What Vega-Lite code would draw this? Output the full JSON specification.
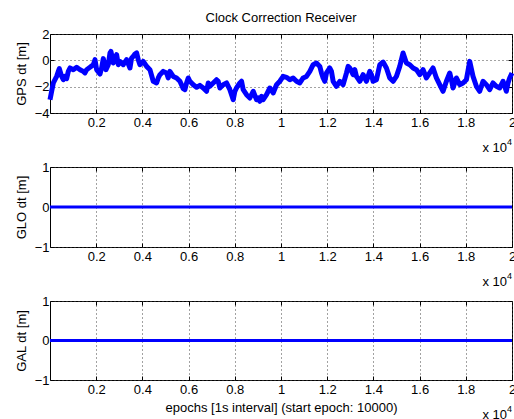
{
  "$schema": "https://vega.github.io/schema/vega-lite/v6.json",
  "autosize": {"type": "pad"},
  "padding": {"left": 14, "top": 11, "right": 0, "bottom": 0},
  "background": "white",
  "title": {"text": "Clock Correction Receiver", "fontSize": 13, "font": "Liberation Sans", "fontWeight": "normal", "color": "black", "anchor": "middle", "offset": 3, "frame": "group"},
  "config": {
    "font": "Liberation Sans",
    "view": {"stroke": "black", "strokeWidth": 1},
    "axis": {
      "labelFont": "Liberation Sans", "labelFontSize": 13, "labelColor": "black",
      "titleFont": "Liberation Sans", "titleFontSize": 13, "titleFontWeight": "normal", "titleColor": "black",
      "domain": false, "tickColor": "black", "tickSize": -4, "tickWidth": 1,
      "gridColor": "#444444", "gridDash": [1, 3], "gridOpacity": 1, "gridWidth": 1,
      "labelOverlap": false, "labelFlush": false, "labelBound": false
    },
    "text": {"font": "Liberation Sans", "color": "black"}
  },
  "datasets": {
    "clock": [
      {"t": 0, "gps": -2.99, "glo": 0, "gal": 0},
      {"t": 72, "gps": -2.35, "glo": 0, "gal": 0},
      {"t": 144, "gps": -1.72, "glo": 0, "gal": 0},
      {"t": 288, "gps": -1.22, "glo": 0, "gal": 0},
      {"t": 361, "gps": -0.84, "glo": 0, "gal": 0},
      {"t": 404, "gps": -0.63, "glo": 0, "gal": 0},
      {"t": 505, "gps": -1.22, "glo": 0, "gal": 0},
      {"t": 577, "gps": -1.47, "glo": 0, "gal": 0},
      {"t": 649, "gps": -1.22, "glo": 0, "gal": 0},
      {"t": 721, "gps": -1.39, "glo": 0, "gal": 0},
      {"t": 793, "gps": -0.84, "glo": 0, "gal": 0},
      {"t": 865, "gps": -0.58, "glo": 0, "gal": 0},
      {"t": 1009, "gps": -0.71, "glo": 0, "gal": 0},
      {"t": 1154, "gps": -0.53, "glo": 0, "gal": 0},
      {"t": 1298, "gps": -0.71, "glo": 0, "gal": 0},
      {"t": 1442, "gps": -0.84, "glo": 0, "gal": 0},
      {"t": 1514, "gps": -0.96, "glo": 0, "gal": 0},
      {"t": 1586, "gps": -0.71, "glo": 0, "gal": 0},
      {"t": 1730, "gps": -0.53, "glo": 0, "gal": 0},
      {"t": 1875, "gps": -0.33, "glo": 0, "gal": 0},
      {"t": 1947, "gps": 0.05, "glo": 0, "gal": 0},
      {"t": 2019, "gps": -0.71, "glo": 0, "gal": 0},
      {"t": 2163, "gps": -1.04, "glo": 0, "gal": 0},
      {"t": 2235, "gps": -0.58, "glo": 0, "gal": 0},
      {"t": 2307, "gps": 0.13, "glo": 0, "gal": 0},
      {"t": 2423, "gps": -0.71, "glo": 0, "gal": 0},
      {"t": 2524, "gps": -0.33, "glo": 0, "gal": 0},
      {"t": 2596, "gps": 0.55, "glo": 0, "gal": 0},
      {"t": 2639, "gps": 0.68, "glo": 0, "gal": 0},
      {"t": 2740, "gps": -0.20, "glo": 0, "gal": 0},
      {"t": 2812, "gps": 0.18, "glo": 0, "gal": 0},
      {"t": 2884, "gps": 0.43, "glo": 0, "gal": 0},
      {"t": 2956, "gps": -0.33, "glo": 0, "gal": 0},
      {"t": 3028, "gps": -0.08, "glo": 0, "gal": 0},
      {"t": 3172, "gps": -0.33, "glo": 0, "gal": 0},
      {"t": 3317, "gps": 0.05, "glo": 0, "gal": 0},
      {"t": 3461, "gps": -0.58, "glo": 0, "gal": 0},
      {"t": 3533, "gps": 0.18, "glo": 0, "gal": 0},
      {"t": 3605, "gps": 0.30, "glo": 0, "gal": 0},
      {"t": 3677, "gps": 0.48, "glo": 0, "gal": 0},
      {"t": 3749, "gps": 0.56, "glo": 0, "gal": 0},
      {"t": 3821, "gps": 0.05, "glo": 0, "gal": 0},
      {"t": 3893, "gps": -0.33, "glo": 0, "gal": 0},
      {"t": 4038, "gps": -0.08, "glo": 0, "gal": 0},
      {"t": 4182, "gps": -0.46, "glo": 0, "gal": 0},
      {"t": 4326, "gps": -0.71, "glo": 0, "gal": 0},
      {"t": 4470, "gps": -1.59, "glo": 0, "gal": 0},
      {"t": 4614, "gps": -1.72, "glo": 0, "gal": 0},
      {"t": 4687, "gps": -1.34, "glo": 0, "gal": 0},
      {"t": 4759, "gps": -1.09, "glo": 0, "gal": 0},
      {"t": 4903, "gps": -0.84, "glo": 0, "gal": 0},
      {"t": 5047, "gps": -0.96, "glo": 0, "gal": 0},
      {"t": 5119, "gps": -1.34, "glo": 0, "gal": 0},
      {"t": 5191, "gps": -0.84, "glo": 0, "gal": 0},
      {"t": 5335, "gps": -1.22, "glo": 0, "gal": 0},
      {"t": 5480, "gps": -1.34, "glo": 0, "gal": 0},
      {"t": 5624, "gps": -1.59, "glo": 0, "gal": 0},
      {"t": 5768, "gps": -2.15, "glo": 0, "gal": 0},
      {"t": 5840, "gps": -2.23, "glo": 0, "gal": 0},
      {"t": 5912, "gps": -1.72, "glo": 0, "gal": 0},
      {"t": 5984, "gps": -1.34, "glo": 0, "gal": 0},
      {"t": 6056, "gps": -1.59, "glo": 0, "gal": 0},
      {"t": 6201, "gps": -1.85, "glo": 0, "gal": 0},
      {"t": 6345, "gps": -2.05, "glo": 0, "gal": 0},
      {"t": 6489, "gps": -1.90, "glo": 0, "gal": 0},
      {"t": 6633, "gps": -2.10, "glo": 0, "gal": 0},
      {"t": 6777, "gps": -2.35, "glo": 0, "gal": 0},
      {"t": 6850, "gps": -1.72, "glo": 0, "gal": 0},
      {"t": 6922, "gps": -1.97, "glo": 0, "gal": 0},
      {"t": 7066, "gps": -1.72, "glo": 0, "gal": 0},
      {"t": 7210, "gps": -1.47, "glo": 0, "gal": 0},
      {"t": 7282, "gps": -1.59, "glo": 0, "gal": 0},
      {"t": 7354, "gps": -2.10, "glo": 0, "gal": 0},
      {"t": 7498, "gps": -1.85, "glo": 0, "gal": 0},
      {"t": 7643, "gps": -1.72, "glo": 0, "gal": 0},
      {"t": 7787, "gps": -2.23, "glo": 0, "gal": 0},
      {"t": 7931, "gps": -2.99, "glo": 0, "gal": 0},
      {"t": 8003, "gps": -2.35, "glo": 0, "gal": 0},
      {"t": 8075, "gps": -2.10, "glo": 0, "gal": 0},
      {"t": 8219, "gps": -1.72, "glo": 0, "gal": 0},
      {"t": 8292, "gps": -1.59, "glo": 0, "gal": 0},
      {"t": 8364, "gps": -2.23, "glo": 0, "gal": 0},
      {"t": 8508, "gps": -2.61, "glo": 0, "gal": 0},
      {"t": 8652, "gps": -2.86, "glo": 0, "gal": 0},
      {"t": 8796, "gps": -2.35, "glo": 0, "gal": 0},
      {"t": 8940, "gps": -2.99, "glo": 0, "gal": 0},
      {"t": 9013, "gps": -2.86, "glo": 0, "gal": 0},
      {"t": 9085, "gps": -3.11, "glo": 0, "gal": 0},
      {"t": 9157, "gps": -2.73, "glo": 0, "gal": 0},
      {"t": 9229, "gps": -2.99, "glo": 0, "gal": 0},
      {"t": 9373, "gps": -2.61, "glo": 0, "gal": 0},
      {"t": 9517, "gps": -2.10, "glo": 0, "gal": 0},
      {"t": 9661, "gps": -2.48, "glo": 0, "gal": 0},
      {"t": 9806, "gps": -1.85, "glo": 0, "gal": 0},
      {"t": 9950, "gps": -1.59, "glo": 0, "gal": 0},
      {"t": 10094, "gps": -1.22, "glo": 0, "gal": 0},
      {"t": 10238, "gps": -1.29, "glo": 0, "gal": 0},
      {"t": 10382, "gps": -1.47, "glo": 0, "gal": 0},
      {"t": 10527, "gps": -1.34, "glo": 0, "gal": 0},
      {"t": 10671, "gps": -1.59, "glo": 0, "gal": 0},
      {"t": 10815, "gps": -1.72, "glo": 0, "gal": 0},
      {"t": 10959, "gps": -1.34, "glo": 0, "gal": 0},
      {"t": 11103, "gps": -1.22, "glo": 0, "gal": 0},
      {"t": 11248, "gps": -0.84, "glo": 0, "gal": 0},
      {"t": 11392, "gps": -0.33, "glo": 0, "gal": 0},
      {"t": 11536, "gps": -0.20, "glo": 0, "gal": 0},
      {"t": 11680, "gps": -0.46, "glo": 0, "gal": 0},
      {"t": 11752, "gps": -0.96, "glo": 0, "gal": 0},
      {"t": 11824, "gps": -1.34, "glo": 0, "gal": 0},
      {"t": 11897, "gps": -1.59, "glo": 0, "gal": 0},
      {"t": 11969, "gps": -0.96, "glo": 0, "gal": 0},
      {"t": 12113, "gps": -0.58, "glo": 0, "gal": 0},
      {"t": 12185, "gps": -0.84, "glo": 0, "gal": 0},
      {"t": 12257, "gps": -1.59, "glo": 0, "gal": 0},
      {"t": 12401, "gps": -1.97, "glo": 0, "gal": 0},
      {"t": 12545, "gps": -1.59, "glo": 0, "gal": 0},
      {"t": 12690, "gps": -1.85, "glo": 0, "gal": 0},
      {"t": 12834, "gps": -0.96, "glo": 0, "gal": 0},
      {"t": 12906, "gps": -0.46, "glo": 0, "gal": 0},
      {"t": 12978, "gps": -0.58, "glo": 0, "gal": 0},
      {"t": 13122, "gps": -1.09, "glo": 0, "gal": 0},
      {"t": 13194, "gps": -0.71, "glo": 0, "gal": 0},
      {"t": 13266, "gps": -1.22, "glo": 0, "gal": 0},
      {"t": 13411, "gps": -1.59, "glo": 0, "gal": 0},
      {"t": 13555, "gps": -1.09, "glo": 0, "gal": 0},
      {"t": 13699, "gps": -1.59, "glo": 0, "gal": 0},
      {"t": 13843, "gps": -0.84, "glo": 0, "gal": 0},
      {"t": 13915, "gps": -1.09, "glo": 0, "gal": 0},
      {"t": 13987, "gps": -1.59, "glo": 0, "gal": 0},
      {"t": 14132, "gps": -1.47, "glo": 0, "gal": 0},
      {"t": 14276, "gps": -0.33, "glo": 0, "gal": 0},
      {"t": 14420, "gps": -0.13, "glo": 0, "gal": 0},
      {"t": 14564, "gps": -0.58, "glo": 0, "gal": 0},
      {"t": 14708, "gps": -1.34, "glo": 0, "gal": 0},
      {"t": 14853, "gps": -1.59, "glo": 0, "gal": 0},
      {"t": 14997, "gps": -1.22, "glo": 0, "gal": 0},
      {"t": 15141, "gps": -0.46, "glo": 0, "gal": 0},
      {"t": 15285, "gps": 0.56, "glo": 0, "gal": 0},
      {"t": 15357, "gps": 0.18, "glo": 0, "gal": 0},
      {"t": 15429, "gps": -0.20, "glo": 0, "gal": 0},
      {"t": 15574, "gps": -0.33, "glo": 0, "gal": 0},
      {"t": 15718, "gps": -0.58, "glo": 0, "gal": 0},
      {"t": 15862, "gps": -0.71, "glo": 0, "gal": 0},
      {"t": 16006, "gps": -1.09, "glo": 0, "gal": 0},
      {"t": 16150, "gps": -0.71, "glo": 0, "gal": 0},
      {"t": 16295, "gps": -1.34, "glo": 0, "gal": 0},
      {"t": 16439, "gps": -0.96, "glo": 0, "gal": 0},
      {"t": 16583, "gps": -0.58, "glo": 0, "gal": 0},
      {"t": 16727, "gps": -1.34, "glo": 0, "gal": 0},
      {"t": 16871, "gps": -1.85, "glo": 0, "gal": 0},
      {"t": 17016, "gps": -2.35, "glo": 0, "gal": 0},
      {"t": 17160, "gps": -1.59, "glo": 0, "gal": 0},
      {"t": 17304, "gps": -0.96, "glo": 0, "gal": 0},
      {"t": 17376, "gps": -1.47, "glo": 0, "gal": 0},
      {"t": 17448, "gps": -2.10, "glo": 0, "gal": 0},
      {"t": 17592, "gps": -1.34, "glo": 0, "gal": 0},
      {"t": 17737, "gps": -1.85, "glo": 0, "gal": 0},
      {"t": 17881, "gps": -1.72, "glo": 0, "gal": 0},
      {"t": 18025, "gps": -1.47, "glo": 0, "gal": 0},
      {"t": 18169, "gps": -0.08, "glo": 0, "gal": 0},
      {"t": 18313, "gps": -1.22, "glo": 0, "gal": 0},
      {"t": 18458, "gps": -1.97, "glo": 0, "gal": 0},
      {"t": 18602, "gps": -2.35, "glo": 0, "gal": 0},
      {"t": 18746, "gps": -1.59, "glo": 0, "gal": 0},
      {"t": 18890, "gps": -1.85, "glo": 0, "gal": 0},
      {"t": 19034, "gps": -2.23, "glo": 0, "gal": 0},
      {"t": 19179, "gps": -1.72, "glo": 0, "gal": 0},
      {"t": 19323, "gps": -1.97, "glo": 0, "gal": 0},
      {"t": 19467, "gps": -2.10, "glo": 0, "gal": 0},
      {"t": 19611, "gps": -1.59, "glo": 0, "gal": 0},
      {"t": 19755, "gps": -2.35, "glo": 0, "gal": 0},
      {"t": 19827, "gps": -1.72, "glo": 0, "gal": 0},
      {"t": 19899, "gps": -1.34, "glo": 0, "gal": 0},
      {"t": 20000, "gps": -0.96, "glo": 0, "gal": 0}
    ]
  },
  "bounds": "flush",
  "spacing": 54,
  "vconcat": [
    {
      "width": 462, "height": 79,
      "data": {"name": "clock"},
      "resolve": {"axis": {"x": "independent", "y": "independent"}},
      "layer": [
        {
          "mark": {"type": "line", "color": "#0000ff", "strokeWidth": 5, "strokeJoin": "round"},
          "encoding": {
            "x": {"field": "t", "type": "quantitative", "scale": {"domain": [0, 20000], "nice": false, "zero": false},
                  "axis": {"values": [2000, 4000, 6000, 8000, 10000, 12000, 14000, 16000, 18000, 20000], "labelExpr": "format(datum.value / 10000, '')", "title": null, "grid": true, "labelPadding": 7}},
            "y": {"field": "gps", "type": "quantitative", "scale": {"domain": [-4, 2], "nice": false},
                  "axis": {"values": [-4, -2, 0, 2], "labelExpr": "datum.value < 0 ? '\u2212' + format(-datum.value, 'd') : format(datum.value, 'd')", "title": "GPS dt [m]", "grid": true, "labelPadding": 5, "titlePadding": 6}}
          }
        },
        {
          "data": {"values": [{"label": "x 10"}]},
          "mark": {"type": "text", "align": "right", "baseline": "middle", "dx": -5, "dy": 35, "fontSize": 13},
          "encoding": {
            "text": {"field": "label"},
            "x": {"datum": 20000, "type": "quantitative", "axis": {"orient": "top", "values": [2000, 4000, 6000, 8000, 10000, 12000, 14000, 16000, 18000], "labels": false, "grid": false, "title": null}},
            "y": {"datum": -4, "type": "quantitative", "axis": {"orient": "right", "values": [-4, -2, 0, 2], "labels": false, "grid": false, "title": null}}
          }
        },
        {
          "data": {"values": [{"label": "4"}]},
          "mark": {"type": "text", "align": "left", "baseline": "middle", "dx": -5, "dy": 29, "fontSize": 9},
          "encoding": {
            "text": {"field": "label"},
            "x": {"datum": 20000, "type": "quantitative", "axis": null},
            "y": {"datum": -4, "type": "quantitative", "axis": null}
          }
        }
      ]
    },
    {
      "width": 462, "height": 80,
      "data": {"name": "clock"},
      "resolve": {"axis": {"x": "independent", "y": "independent"}},
      "layer": [
        {
          "mark": {"type": "line", "color": "#0000ff", "strokeWidth": 3},
          "encoding": {
            "x": {"field": "t", "type": "quantitative", "scale": {"domain": [0, 20000], "nice": false, "zero": false},
                  "axis": {"values": [2000, 4000, 6000, 8000, 10000, 12000, 14000, 16000, 18000, 20000], "labelExpr": "format(datum.value / 10000, '')", "title": null, "grid": true, "labelPadding": 7}},
            "y": {"field": "glo", "type": "quantitative", "scale": {"domain": [-1, 1], "nice": false},
                  "axis": {"values": [-1, 0, 1], "labelExpr": "datum.value < 0 ? '\u2212' + format(-datum.value, 'd') : format(datum.value, 'd')", "title": "GLO dt [m]", "grid": true, "labelPadding": 5, "titlePadding": 6}}
          }
        },
        {
          "data": {"values": [{"label": "x 10"}]},
          "mark": {"type": "text", "align": "right", "baseline": "middle", "dx": -5, "dy": 35, "fontSize": 13},
          "encoding": {
            "text": {"field": "label"},
            "x": {"datum": 20000, "type": "quantitative", "axis": {"orient": "top", "values": [2000, 4000, 6000, 8000, 10000, 12000, 14000, 16000, 18000], "labels": false, "grid": false, "title": null}},
            "y": {"datum": -1, "type": "quantitative", "axis": {"orient": "right", "values": [-1, 0, 1], "labels": false, "grid": false, "title": null}}
          }
        },
        {
          "data": {"values": [{"label": "4"}]},
          "mark": {"type": "text", "align": "left", "baseline": "middle", "dx": -5, "dy": 29, "fontSize": 9},
          "encoding": {
            "text": {"field": "label"},
            "x": {"datum": 20000, "type": "quantitative", "axis": null},
            "y": {"datum": -1, "type": "quantitative", "axis": null}
          }
        }
      ]
    },
    {
      "width": 462, "height": 79,
      "data": {"name": "clock"},
      "resolve": {"axis": {"x": "independent", "y": "independent"}},
      "layer": [
        {
          "mark": {"type": "line", "color": "#0000ff", "strokeWidth": 3},
          "encoding": {
            "x": {"field": "t", "type": "quantitative", "scale": {"domain": [0, 20000], "nice": false, "zero": false},
                  "axis": {"values": [2000, 4000, 6000, 8000, 10000, 12000, 14000, 16000, 18000, 20000], "labelExpr": "format(datum.value / 10000, '')", "title": "epochs [1s interval] (start epoch: 10000)", "grid": true, "labelPadding": 7, "titlePadding": 5}},
            "y": {"field": "gal", "type": "quantitative", "scale": {"domain": [-1, 1], "nice": false},
                  "axis": {"values": [-1, 0, 1], "labelExpr": "datum.value < 0 ? '\u2212' + format(-datum.value, 'd') : format(datum.value, 'd')", "title": "GAL dt [m]", "grid": true, "labelPadding": 5, "titlePadding": 6}}
          }
        },
        {
          "data": {"values": [{"label": "x 10"}]},
          "mark": {"type": "text", "align": "right", "baseline": "middle", "dx": -5, "dy": 35, "fontSize": 13},
          "encoding": {
            "text": {"field": "label"},
            "x": {"datum": 20000, "type": "quantitative", "axis": {"orient": "top", "values": [2000, 4000, 6000, 8000, 10000, 12000, 14000, 16000, 18000], "labels": false, "grid": false, "title": null}},
            "y": {"datum": -1, "type": "quantitative", "axis": {"orient": "right", "values": [-1, 0, 1], "labels": false, "grid": false, "title": null}}
          }
        },
        {
          "data": {"values": [{"label": "4"}]},
          "mark": {"type": "text", "align": "left", "baseline": "middle", "dx": -5, "dy": 29, "fontSize": 9},
          "encoding": {
            "text": {"field": "label"},
            "x": {"datum": 20000, "type": "quantitative", "axis": null},
            "y": {"datum": -1, "type": "quantitative", "axis": null}
          }
        }
      ]
    }
  ]
}
